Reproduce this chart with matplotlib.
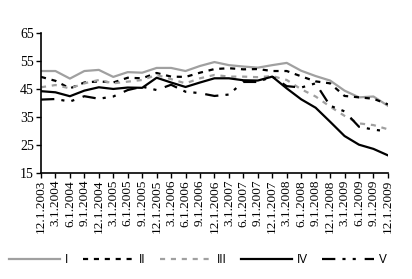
import matplotlib
matplotlib.use("Agg")
import matplotlib.pyplot as plt

# Tick labels (quarterly survey dates)
dates = ['12.1.2003', '3.1.2004', '6.1.2004', '9.1.2004', '12.1.2004',
         '3.1.2005', '6.1.2005', '9.1.2005', '12.1.2005', '3.1.2006',
         '6.1.2006', '9.1.2006', '12.1.2006', '3.1.2007', '6.1.2007',
         '9.1.2007', '12.1.2007', '3.1.2008', '6.1.2008', '9.1.2008',
         '12.1.2008', '3.1.2009', '6.1.2009', '9.1.2009', '12.1.2009']

# Series values
s_I = [51.4, 51.4, 48.7, 51.4, 51.8, 49.3, 51.0, 50.8, 52.5, 52.5, 51.4, 53.2, 54.6,
       53.5, 53.0, 52.6, 53.5, 54.3, 51.5, 49.6, 48.0, 44.4, 42.0, 42.3, 39.0]
s_II = [49.3, 47.9, 45.2, 47.3, 47.7, 47.3, 49.0, 48.8, 50.7, 49.4, 49.3, 50.8, 52.1,
        52.4, 52.0, 52.1, 51.4, 51.4, 49.5, 47.7, 47.0, 42.5, 42.0, 41.5, 39.5]
s_III = [45.6, 46.4, 45.2, 47.0, 48.2, 47.0, 47.6, 48.2, 50.0, 48.5, 47.0, 48.8, 50.0,
         49.4, 49.4, 49.2, 49.6, 48.2, 44.9, 42.3, 38.7, 35.4, 32.7, 32.1, 30.6]
s_IV = [44.2, 43.8, 42.4, 44.4, 45.6, 45.0, 45.5, 45.4, 49.0, 47.3, 45.7, 47.3, 48.8,
        48.8, 48.1, 48.0, 49.4, 45.2, 41.3, 38.3, 33.3, 28.2, 25.1, 23.6, 21.3]
s_V = [41.2, 41.4, 40.5, 42.4, 41.5, 42.3, 44.6, 45.8, 44.6, 46.5, 44.0, 43.5, 42.5,
       43.0, 47.5, 47.5, 49.4, 46.0, 45.5, 47.0, 39.0, 37.0, 31.5, 30.5, 29.8]

names = ['I', 'II', 'III', 'IV', 'V']
gray = '#a0a0a0'

fig = plt.figure(figsize=(4.12, 2.79), dpi=100)
ax = fig.add_axes([0.0995, 0.38, 0.842, 0.502])

x = range(len(dates))
ax.plot(x, s_I, color=gray, lw=1.6, label=names[0])
ax.plot(x, s_II, color='black', lw=1.6, linestyle=(0, (2.3, 2.6)), label=names[1])
ax.plot(x, s_III, color=gray, lw=1.6, linestyle=(0, (2.3, 2.6)), label=names[2])
ax.plot(x, s_IV, color='black', lw=1.6, label=names[3])
ax.plot(x, s_V, color='black', lw=1.6, linestyle=(0, (6, 3.2, 1.4, 3.2, 1.4, 4)), label=names[4])

ax.set_xlim(0, len(dates) - 1)
ax.set_ylim(15, 65)
ax.set_yticks([15, 25, 35, 45, 55, 65])
ax.set_xticks(list(x))
ax.set_xticklabels(dates, rotation=90, fontsize=9.5, family='Liberation Serif')
for lab in ax.get_yticklabels():
    lab.set_family('Liberation Serif')
    lab.set_fontsize(10)

ax.spines['top'].set_visible(False)
ax.spines['right'].set_visible(False)
ax.spines['left'].set_linewidth(1.2)
ax.spines['bottom'].set_linewidth(1.2)
ax.tick_params(direction='out', length=3.5, width=1.0, pad=1.5)

fig.legend(loc='center', bbox_to_anchor=(0.48, 0.068), ncol=5, frameon=False,
           prop={'family': 'Liberation Sans', 'size': 8.5},
           handlelength=4.4, handletextpad=0.4, columnspacing=1.2)

fig.savefig('out.png', dpi=100)
